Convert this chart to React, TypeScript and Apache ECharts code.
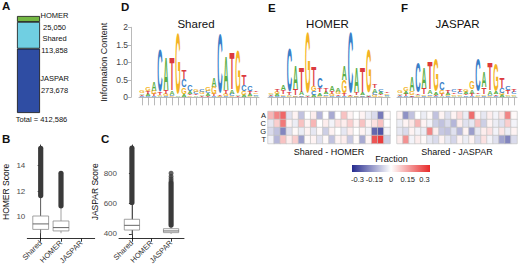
import { useEffect, useRef } from 'react';
import * as echarts from 'echarts';

const FONT = '"Liberation Sans", Arial, Helvetica, sans-serif';

// ---------- Panel A: motif sites ----------
const motifSets = ['JASPAR', 'Shared', 'HOMER'];
const motifCounts = [273678, 113858, 25050];
const motifColors = ['#2f4da3', '#70cfe2', '#74b843'];

// ---------- Panels B, C: score box plots ----------
const boxCategories = ['Shared', 'HOMER', 'JASPAR'];
// [category index, lower whisker, Q1, median, Q3, upper whisker]
const homerScoreBoxes = [
  [0, 8.7, 9.0, 9.43, 10.05, 11.57],
  [1, 8.7, 8.88, 9.14, 9.66, 10.78],
];
// [category index, lowest outlier, highest outlier] – densely packed outliers
const homerScoreOutlierRanges = [
  [0, 11.65, 15.36],
  [1, 10.85, 13.4],
];
const homerScoreTicks = [10, 12, 14];

const jasparScoreBoxes = [
  [0, 398, 426, 457, 497, 602],
  [2, 400, 409, 420, 435, 453],
];
const jasparScoreOutlierRanges = [
  [0, 608, 965],
  [2, 459, 735],
];
const jasparScoreOutlierPoints = [
  [2, 749], [2, 763], [2, 779], [2, 800],
];
const jasparScoreTicks = [400, 600, 800];

// ---------- Panels D, E, F: sequence logos (bits) ----------
const logoPositions = ['1', '2', '3', '4', '5', '6', '7', '8', '9', '10', '11', '12', '13', '14', '15', '16', '17', '18', '19', '20'];
const infoTicks = [0, 0.5, 1, 1.5, 2];

const sharedA = [0.05, 0.06, 0.28, 0.03, 0.95, 0.12, 0.03, 0.08, 0.06, 0.05, 0.05, 0.06, 0.28, 0.02, 1.0, 0.12, 0.05, 0.06, 0.06, 0.05];
const sharedC = [0.04, 0.05, 0.03, 1.25, 0.03, 0.05, 0.01, 0.25, 0.18, 0.06, 0.07, 0.06, 0.03, 1.78, 0.03, 0.06, 0.01, 0.18, 0.15, 0.05];
const sharedG = [0.06, 0.1, 0.1, 0.04, 0.06, 0.03, 1.82, 0.2, 0.05, 0.08, 0.06, 0.1, 0.22, 0.03, 0.06, 0.03, 1.32, 0.1, 0.05, 0.05];
const sharedT = [0.04, 0.06, 0.06, 0.06, 0.1, 0.95, 0.01, 0.28, 0.05, 0.05, 0.04, 0.05, 0.06, 0.04, 0.12, 1.05, 0.02, 0.3, 0.06, 0.05];

const homerA = [0.04, 0.06, 0.15, 0.04, 0.68, 0.1, 0.04, 0.08, 0.08, 0.06, 0.15, 0.1, 0.42, 0.02, 0.7, 0.08, 0.05, 0.1, 0.06, 0.04];
const homerC = [0.03, 0.04, 0.04, 1.3, 0.02, 0.04, 0.01, 0.1, 0.3, 0.05, 0.05, 0.04, 0.03, 1.8, 0.02, 0.05, 0.02, 0.08, 0.06, 0.04];
const homerG = [0.04, 0.06, 0.05, 0.03, 0.04, 0.02, 1.8, 0.15, 0.05, 0.04, 0.06, 0.08, 0.38, 0.02, 0.04, 0.02, 1.3, 0.06, 0.05, 0.04];
const homerT = [0.03, 0.08, 0.12, 0.06, 0.18, 0.7, 0.02, 0.55, 0.12, 0.12, 0.08, 0.05, 0.08, 0.03, 0.08, 0.7, 0.03, 0.12, 0.05, 0.04];

const jasparA = [0.05, 0.08, 0.42, 0.04, 0.62, 0.12, 0.08, 0.04, 0.06, 0.05, 0.05, 0.06, 0.12, 0.05, 0.45, 0.12, 0.08, 0.06, 0.05, 0.05];
const jasparC = [0.04, 0.04, 0.02, 0.92, 0.03, 0.05, 0.03, 0.25, 0.04, 0.06, 0.06, 0.05, 0.05, 0.98, 0.04, 0.05, 0.03, 0.15, 0.12, 0.06];
const jasparG = [0.08, 0.12, 0.1, 0.03, 0.05, 0.04, 0.98, 0.1, 0.04, 0.05, 0.05, 0.08, 0.22, 0.04, 0.05, 0.03, 0.82, 0.06, 0.05, 0.05];
const jasparT = [0.04, 0.06, 0.05, 0.04, 0.17, 0.78, 0.03, 0.06, 0.08, 0.05, 0.06, 0.05, 0.06, 0.05, 0.2, 0.78, 0.05, 0.3, 0.1, 0.08];

// ---------- Panels E, F: difference heatmaps (fraction) ----------
const bases = ['A', 'C', 'G', 'T'];
const diffHomerA = [0.12, 0.2, 0.25, -0.05, 0.02, -0.1, 0, 0.03, -0.12, 0, -0.14, 0, 0.1, 0.02, 0, 0.02, -0.03, -0.06, -0.22, 0.01];
const diffHomerC = [-0.04, 0.08, 0.22, 0.02, -0.03, 0.1, 0.02, 0.12, 0, 0.03, -0.02, 0.05, 0.03, 0.08, 0.02, 0.1, 0.02, 0.05, 0.1, 0];
const diffHomerG = [-0.06, -0.1, -0.2, -0.05, 0.01, -0.03, 0.02, -0.04, 0.01, -0.08, 0.02, 0, -0.04, 0.03, 0, 0.02, -0.02, -0.25, -0.28, -0.02];
const diffHomerT = [-0.02, -0.12, 0.1, 0.03, 0.08, -0.16, 0.01, 0.02, -0.05, 0.01, -0.1, 0.02, 0.03, -0.09, 0.01, -0.14, 0.02, 0.28, 0.32, -0.08];

const diffJasparA = [0.02, -0.18, -0.1, 0, -0.03, 0.01, -0.1, 0.02, -0.05, 0.02, 0.06, -0.03, 0.24, 0.02, -0.04, 0.03, -0.02, 0.04, 0.2, 0.01];
const diffJasparC = [-0.03, 0.02, 0.04, 0.12, 0.02, -0.02, -0.08, -0.1, -0.06, -0.12, 0.03, -0.05, -0.04, 0.1, -0.08, 0.02, -0.03, -0.05, 0.08, -0.02];
const diffJasparG = [-0.04, -0.06, 0.02, -0.02, -0.03, 0.2, 0.03, -0.09, -0.1, -0.05, -0.12, 0.02, -0.16, -0.04, 0.03, 0.05, -0.02, 0.04, -0.03, 0.02];
const diffJasparT = [0.03, 0.18, -0.02, 0.03, 0.01, -0.04, -0.06, 0.02, -0.04, -0.07, 0.02, -0.03, 0.02, -0.06, 0.05, -0.02, -0.05, -0.15, -0.2, -0.06];

const fractionTicks = [-0.3, -0.15, 0, 0.15, 0.3];
const fractionLimit = 0.35;
const diffColors = ['#262b8f', '#ffffff', '#e82a2a'];

// ---------- helpers ----------
const LETTER_COLORS = ['#5aae48', '#3a7fc8', '#f3b324', '#dc3a3e'];
const INK_W = [0.74, 0.7, 0.74, 0.64];
const CAP_H = [0.716, 0.745, 0.745, 0.716];

function stackLogo(cols: number[][]) {
  const out: number[][] = [];
  for (let k = 0; k < cols[0].length; k++) {
    const order = [0, 1, 2, 3].sort((a, b) => cols[a][k] - cols[b][k]);
    let y = 0;
    for (const li of order) {
      const h = cols[li][k];
      out.push([k, y, y + h, li]);
      y += h;
    }
  }
  return out;
}

function heatData(rows: number[][]) {
  const out: number[][] = [];
  rows.forEach((row, r) => row.forEach((v, k) => out.push([k, r, v])));
  return out;
}

const renderLetter = (params: any, api: any) => {
  const k = api.value(0);
  const y0 = api.value(1);
  const y1 = api.value(2);
  const li = api.value(3);
  const pb = api.coord([k, y0]);
  const pt = api.coord([k, y1]);
  const h = pb[1] - pt[1];
  if (h < 0.6) return null;
  const bw = api.size([1, 0])[0] * 0.86;
  const fs = 100;
  return {
    type: 'text',
    x: pb[0],
    y: (pb[1] + pt[1]) / 2,
    scaleX: bw / (INK_W[li] * fs),
    scaleY: h / (CAP_H[li] * fs),
    silent: true,
    style: {
      text: bases[li],
      x: 0,
      y: 0,
      align: 'center',
      verticalAlign: 'middle',
      textAlign: 'center',
      textVerticalAlign: 'middle',
      fontSize: fs,
      fontWeight: 'bold',
      fontFamily: FONT,
      fill: LETTER_COLORS[li],
    },
  };
};

const renderBox = (params: any, api: any) => {
  const x = api.value(0);
  const c = (v: number) => api.coord([x, v]);
  const lo = c(api.value(1));
  const q1 = c(api.value(2));
  const md = c(api.value(3));
  const q3 = c(api.value(4));
  const hi = c(api.value(5));
  const w = api.size([0.78, 0])[0];
  const stroke = '#8a8a8a';
  return {
    type: 'group',
    children: [
      { type: 'line', shape: { x1: lo[0], y1: lo[1], x2: q1[0], y2: q1[1] }, style: { stroke, lineWidth: 0.8 } },
      { type: 'line', shape: { x1: q3[0], y1: q3[1], x2: hi[0], y2: hi[1] }, style: { stroke, lineWidth: 0.8 } },
      { type: 'rect', shape: { x: q3[0] - w / 2, y: q3[1], width: w, height: q1[1] - q3[1] }, style: { fill: '#fff', stroke, lineWidth: 0.8 } },
      { type: 'line', shape: { x1: md[0] - w / 2, y1: md[1], x2: md[0] + w / 2, y2: md[1] }, style: { stroke: '#555', lineWidth: 0.9 } },
    ],
  };
};

const renderOutlierRange = (params: any, api: any) => {
  const x = api.value(0);
  const a = api.coord([x, api.value(1)]);
  const b = api.coord([x, api.value(2)]);
  return {
    type: 'line',
    shape: { x1: a[0], y1: a[1], x2: b[0], y2: b[1] },
    style: { stroke: '#3a3a3a', lineWidth: 5.2, lineCap: 'round' },
  };
};

const renderColorbar = (params: any) => {
  const cs = params.coordSys;
  return {
    type: 'rect',
    shape: { x: cs.x, y: cs.y, width: cs.width, height: cs.height },
    style: {
      fill: new echarts.graphic.LinearGradient(0, 0, 1, 0, [
        { offset: 0, color: diffColors[0] },
        { offset: 0.5, color: diffColors[1] },
        { offset: 1, color: diffColors[2] },
      ]),
    },
  };
};

function gText(text: string, x: number, y: number, size: number, opts: any = {}) {
  const align = opts.align || 'center';
  const valign = opts.valign || 'middle';
  return {
    type: 'text',
    x,
    y,
    silent: true,
    style: {
      text,
      align,
      verticalAlign: valign,
      textAlign: align,
      textVerticalAlign: valign,
      fontSize: size,
      fontWeight: opts.bold ? 'bold' : 'normal',
      fontFamily: FONT,
      fill: opts.color || '#111',
    },
  };
}

function buildOption() {
  const total = motifCounts.reduce((a, b) => a + b, 0);
  const labelPos = [[37.5, 36], [37.5, 22.5], [37.5, 5.5]];

  const boxXAxis = (gridIndex: number) => ({
    gridIndex,
    type: 'value',
    min: -0.66,
    max: 2.66,
    splitLine: { show: false },
    axisLine: { show: true, lineStyle: { color: '#000', width: 0.8 } },
    axisTick: { show: true, customValues: [0, 1, 2], length: 3, lineStyle: { color: '#000', width: 0.8 } },
    axisLabel: {
      show: true,
      customValues: [0, 1, 2],
      formatter: (v: number) => boxCategories[Math.round(v)],
      rotate: 45,
      fontSize: 7.5,
      margin: 3,
      color: '#333',
      fontFamily: FONT,
      hideOverlap: false,
    },
  });
  const boxYAxis = (gridIndex: number, min: number, max: number, ticks: number[], name: string, gap: number) => ({
    gridIndex,
    type: 'value',
    min,
    max,
    splitLine: { show: false },
    axisLine: { show: true, lineStyle: { color: '#000', width: 0.8 } },
    axisTick: { show: true, customValues: ticks, length: 3, lineStyle: { color: '#000', width: 0.8 } },
    axisLabel: { show: true, customValues: ticks, fontSize: 8, margin: 2, color: '#4d4d4d', fontFamily: FONT },
    name,
    nameLocation: 'middle',
    nameGap: gap,
    nameTextStyle: { fontSize: 8.5, color: '#111', fontFamily: FONT },
  });
  const logoXAxis = (gridIndex: number) => ({
    gridIndex,
    type: 'category',
    data: logoPositions,
    boundaryGap: true,
    offset: 2,
    axisLine: { show: true, lineStyle: { color: '#a8a8a8', width: 0.8 } },
    axisTick: { show: true, alignWithLabel: true, interval: 0, length: 8, lineStyle: { color: '#a8a8a8', width: 0.8 } },
    axisLabel: { show: false },
    splitLine: { show: false },
  });
  const logoYAxis = (gridIndex: number, visible: boolean) => ({
    gridIndex,
    type: 'value',
    min: 0,
    max: 2,
    show: visible,
    offset: 8,
    splitLine: { show: false },
    axisLine: { show: true, lineStyle: { color: '#a8a8a8', width: 0.8 } },
    axisTick: { show: true, customValues: infoTicks, length: 3, lineStyle: { color: '#a8a8a8', width: 0.8 } },
    axisLabel: {
      show: true,
      customValues: infoTicks,
      formatter: (v: number) => (v === 0 || v === 2 ? String(v) : v.toFixed(1)),
      fontSize: 8.5,
      margin: 3,
      color: '#444',
      fontFamily: FONT,
    },
    name: visible ? 'Information Content' : '',
    nameLocation: 'middle',
    nameGap: 23,
    nameTextStyle: { fontSize: 9, color: '#222', fontFamily: FONT },
  });
  const heatXAxis = (gridIndex: number, name: string) => ({
    gridIndex,
    type: 'category',
    data: logoPositions,
    axisLine: { show: false },
    axisTick: { show: false },
    axisLabel: { show: false },
    splitLine: { show: false },
    name,
    nameLocation: 'middle',
    nameGap: 4,
    nameTextStyle: { fontSize: 9, color: '#111', fontFamily: FONT },
  });
  const heatYAxis = (gridIndex: number, labels: boolean) => ({
    gridIndex,
    type: 'category',
    data: bases,
    inverse: true,
    axisLine: { show: false },
    axisTick: { show: false },
    axisLabel: { show: labels, interval: 0, hideOverlap: false, fontSize: 7.5, margin: 2, color: '#222', fontFamily: FONT },
    splitLine: { show: false },
  });

  const heatSeries = (idx: number, rows: number[][]) => ({
    type: 'heatmap',
    xAxisIndex: idx,
    yAxisIndex: idx,
    data: heatData(rows),
    itemStyle: { borderColor: '#c4c4c4', borderWidth: 0.7 },
    emphasis: { disabled: true },
    silent: true,
  });

  return {
    animation: false,
    backgroundColor: '#ffffff',
    textStyle: { fontFamily: FONT },
    grid: [
      { left: 17, top: 16, width: 23, height: 97 },
      { left: 27.3, top: 145, width: 67.4, height: 93.7 },
      { left: 119, top: 145, width: 65, height: 93.7 },
      { left: 139, top: 27.3, width: 120, height: 70 },
      { left: 268, top: 27.3, width: 122, height: 70 },
      { left: 397, top: 27.3, width: 120, height: 70 },
      { left: 268, top: 111.5, width: 122, height: 32 },
      { left: 397, top: 111.5, width: 120, height: 32 },
      { left: 352, top: 165, width: 78, height: 7 },
    ],
    xAxis: [
      { gridIndex: 0, type: 'category', data: ['all'], show: false },
      boxXAxis(1),
      boxXAxis(2),
      logoXAxis(3),
      logoXAxis(4),
      logoXAxis(5),
      heatXAxis(6, 'Shared - HOMER'),
      heatXAxis(7, 'Shared - JASPAR'),
      {
        gridIndex: 8,
        type: 'value',
        min: -fractionLimit,
        max: fractionLimit,
        axisLine: { show: false },
        axisTick: { show: false },
        splitLine: { show: false },
        axisLabel: {
          show: true,
          customValues: fractionTicks,
          formatter: (v: number) => (v === 0 ? '0' : String(v)),
          hideOverlap: false,
          showMinLabel: true,
          showMaxLabel: true,
          fontSize: 7.5,
          margin: 3,
          color: '#222',
          fontFamily: FONT,
        },
      },
    ],
    yAxis: [
      { gridIndex: 0, type: 'value', min: 0, max: total, show: false },
      boxYAxis(1, 8.27, 15.62, homerScoreTicks, 'HOMER Score', 17),
      boxYAxis(2, 369, 986, jasparScoreTicks, 'JASPAR Score', 19),
      logoYAxis(3, true),
      logoYAxis(4, false),
      logoYAxis(5, false),
      heatYAxis(6, true),
      heatYAxis(7, false),
      { gridIndex: 8, type: 'value', show: false, min: 0, max: 1 },
    ],
    visualMap: [
      {
        type: 'continuous',
        show: false,
        seriesIndex: [11, 12],
        dimension: 2,
        min: -fractionLimit,
        max: fractionLimit,
        inRange: { color: diffColors },
      },
    ],
    series: [
      ...motifSets.map((name, i) => ({
        type: 'bar',
        name,
        xAxisIndex: 0,
        yAxisIndex: 0,
        stack: 'total',
        barWidth: '100%',
        silent: true,
        data: [motifCounts[i]],
        itemStyle: { color: motifColors[i], borderColor: '#111', borderWidth: 0.8 },
        label: {
          show: true,
          position: labelPos[i],
          align: 'center',
          verticalAlign: 'middle',
          formatter: `${name}\n${motifCounts[i].toLocaleString('en-US')}`,
          fontSize: 7.5,
          lineHeight: 11.5,
          color: '#111',
          fontFamily: FONT,
        },
      })),
      { type: 'custom', xAxisIndex: 1, yAxisIndex: 1, data: homerScoreBoxes, renderItem: renderBox, silent: true },
      { type: 'custom', xAxisIndex: 1, yAxisIndex: 1, data: homerScoreOutlierRanges, renderItem: renderOutlierRange, silent: true },
      { type: 'custom', xAxisIndex: 2, yAxisIndex: 2, data: jasparScoreBoxes, renderItem: renderBox, silent: true },
      { type: 'custom', xAxisIndex: 2, yAxisIndex: 2, data: jasparScoreOutlierRanges, renderItem: renderOutlierRange, silent: true },
      {
        type: 'scatter',
        xAxisIndex: 2,
        yAxisIndex: 2,
        data: jasparScoreOutlierPoints,
        symbolSize: 5,
        itemStyle: { color: '#3a3a3a' },
        silent: true,
      },
      { type: 'custom', xAxisIndex: 3, yAxisIndex: 3, data: stackLogo([sharedA, sharedC, sharedG, sharedT]), renderItem: renderLetter, silent: true },
      { type: 'custom', xAxisIndex: 4, yAxisIndex: 4, data: stackLogo([homerA, homerC, homerG, homerT]), renderItem: renderLetter, silent: true },
      { type: 'custom', xAxisIndex: 5, yAxisIndex: 5, data: stackLogo([jasparA, jasparC, jasparG, jasparT]), renderItem: renderLetter, silent: true },
      heatSeries(6, [diffHomerA, diffHomerC, diffHomerG, diffHomerT]),
      heatSeries(7, [diffJasparA, diffJasparC, diffJasparG, diffJasparT]),
      { type: 'custom', xAxisIndex: 8, yAxisIndex: 8, data: [[0, 0]], renderItem: renderColorbar, silent: true },
    ],
    graphic: {
      elements: [
        gText('A', 2, 0, 11.5, { bold: true, align: 'left', valign: 'top' }),
        gText('B', 2, 132.5, 11.5, { bold: true, align: 'left', valign: 'top' }),
        gText('C', 101, 132.5, 11.5, { bold: true, align: 'left', valign: 'top' }),
        gText('D', 121, 0.5, 11.5, { bold: true, align: 'left', valign: 'top' }),
        gText('E', 268, 1.5, 11.5, { bold: true, align: 'left', valign: 'top' }),
        gText('F', 401, 1.5, 11.5, { bold: true, align: 'left', valign: 'top' }),
        gText('Shared', 196, 23.5, 11.5),
        gText('HOMER', 327.5, 24, 11.5),
        gText('JASPAR', 457.5, 24, 11.5),
        gText(`Total = ${total.toLocaleString('en-US')}`, 41.5, 119.5, 7.5),
        gText('Fraction', 391.5, 158.5, 9),
      ],
    },
  };
}

export default function App() {
  const ref = useRef<HTMLDivElement>(null);
  useEffect(() => {
    document.body.style.margin = '0';
    const chart = echarts.init(ref.current as HTMLDivElement, undefined, { renderer: 'svg' });
    chart.setOption(buildOption() as any);
    return () => {
      chart.dispose();
    };
  }, []);
  return <div ref={ref} style={{ width: 520, height: 273 }} />;
}
